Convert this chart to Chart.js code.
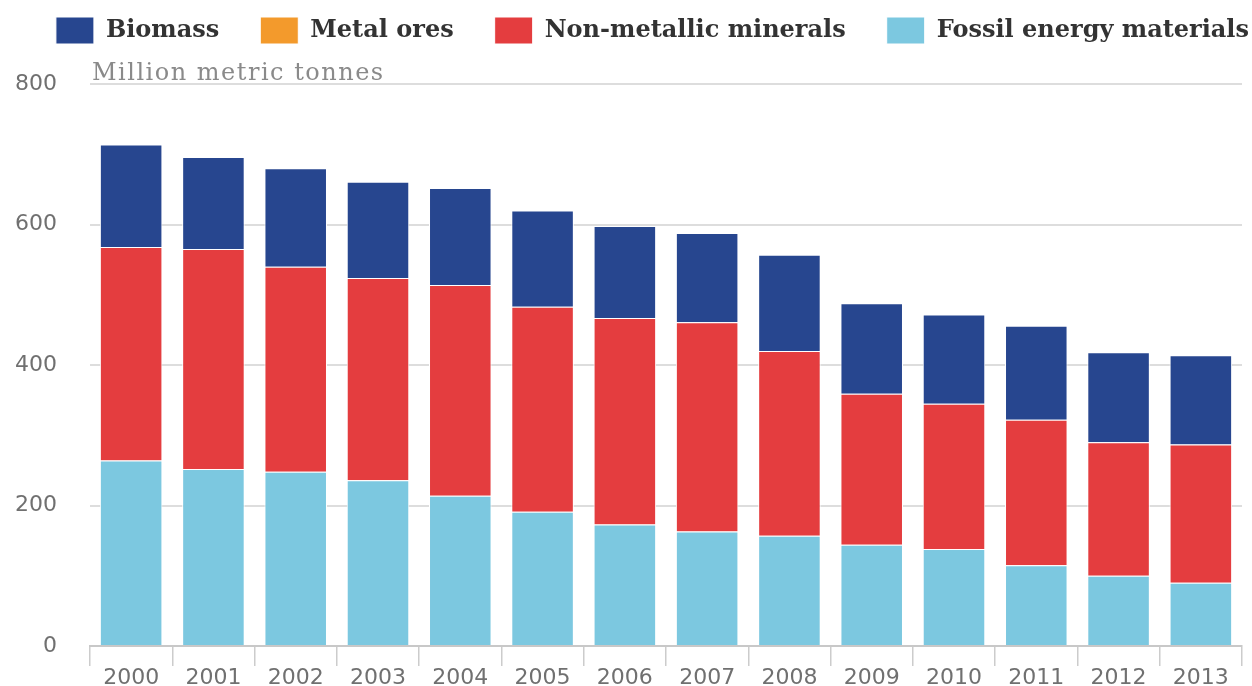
<!DOCTYPE html>
<html><head><meta charset="utf-8">
<script src="https://cdn.jsdelivr.net/npm/chart.js@4.4.0/dist/chart.umd.min.js"></script>
<style>html,body{margin:0;padding:0;background:#fff;overflow:hidden}</style>
</head><body>
<canvas id="c" width="1252" height="686"></canvas>
<script>
const years = ['2000','2001','2002','2003','2004','2005','2006','2007','2008','2009','2010','2011','2012','2013'];
const fossil = [264, 252, 248, 236, 214, 191, 173, 163, 157, 144, 138, 115, 100, 90];
const nonMetallic = [304, 313, 292, 288, 300, 292, 294, 298, 263, 215, 207, 207, 190, 197];
const metalOres = [0, 0, 0, 0, 0, 0, 0, 0, 0, 0, 0, 0, 0, 0];
const biomass = [146, 131, 140, 137, 138, 137, 131, 127, 137, 129, 127, 134, 128, 127];
const yTicks = [0, 200, 400, 600, 800];
const unitText = 'Million metric tonnes';

const LEGEND_PAD = 41;

const unitLabel = {
  id: 'unitLabel',
  beforeLayout(chart) {
    const lg = chart.legend;
    if (lg && !lg.__patched) {
      const f = lg.fit;
      lg.fit = function () { this.maxWidth = 2000; f.call(this); this.height = 84; };
      lg.__patched = true;
    }
  },
  beforeDraw(chart) {
    const lg = chart.legend;
    if (lg) { lg.top = 17 - LEGEND_PAD; lg.right = 1290; }
  },
  afterDraw(chart) {
    const {ctx, chartArea} = chart;
    ctx.save();
    ctx.font = '24px "DejaVu Serif"';
    ctx.fillStyle = '#8a8a8a';
    ctx.textBaseline = 'alphabetic';
    ctx.textAlign = 'left';
    try { ctx.letterSpacing = '1.5px'; } catch (e) {}
    ctx.fillText(unitText, chartArea.left + 2, chartArea.top - 4);
    ctx.restore();
  }
};

const ds = (label, data, color) => ({
  label, data, backgroundColor: color, borderColor: '#ffffff', borderWidth: 1,
  borderSkipped: 'bottom', categoryPercentage: 1.0, barPercentage: 0.76
});

new Chart(document.getElementById('c'), {
  type: 'bar',
  data: {
    labels: years,
    datasets: [
      ds('Fossil energy materials', fossil, '#7cc8e0'),
      ds('Non-metallic minerals', nonMetallic, '#e43d3f'),
      ds('Metal ores', metalOres, '#f39a2c'),
      ds('Biomass', biomass, '#27468f')
    ]
  },
  plugins: [unitLabel],
  options: {
    responsive: false,
    animation: false,
    layout: { padding: { left: 0, right: 10, top: 0, bottom: 0 } },
    plugins: {
      tooltip: { enabled: false },
      legend: {
        position: 'top',
        align: 'end',
        reverse: true,
        labels: {
          boxWidth: 38,
          boxHeight: 27,
          padding: LEGEND_PAD,
          color: '#333333',
          font: { family: '"DejaVu Serif"', size: 24, weight: 'bold' }
        }
      }
    },
    scales: {
      x: {
        stacked: true,
        afterFit: (s) => { s.height = 40; },
        grid: { drawOnChartArea: false, offset: true, tickLength: 20, color: '#cccccc', lineWidth: 1.5 },
        border: { display: true, color: '#c8c8c8', width: 2 },
        ticks: { color: '#707070', padding: -1, font: { family: '"DejaVu Sans"', size: 22 } }
      },
      y: {
        stacked: true,
        min: 0, max: 800,
        afterFit: (s) => { s.width = 90; },
        afterBuildTicks: (s) => { s.ticks = yTicks.map(v => ({ value: v })); },
        grid: {
          drawTicks: true,
          tickLength: 33,
          tickColor: 'rgba(0,0,0,0)',
          color: (c) => (c.tick && c.tick.value === 0) ? '#a8a8a8' : '#dddddd',
          lineWidth: 2
        },
        border: { display: false },
        ticks: { color: '#707070', padding: 0, font: { family: '"DejaVu Sans"', size: 22 } }
      }
    }
  }
});
</script>
</body></html>
